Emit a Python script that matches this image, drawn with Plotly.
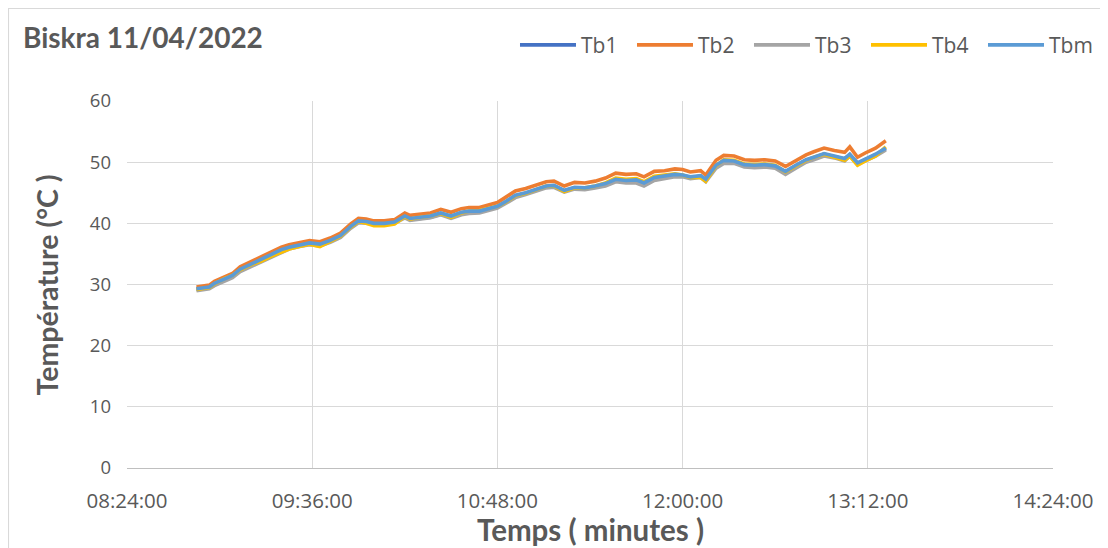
import plotly.graph_objects as go

# ---- data ----
times = ["08:51", "08:56", "08:58", "09:02", "09:05", "09:08", "09:12", "09:16", "09:20", "09:24",
         "09:27", "09:31", "09:35", "09:39", "09:43", "09:47", "09:51", "09:54", "09:57", "10:00",
         "10:04", "10:08", "10:12", "10:14", "10:18", "10:22", "10:26", "10:30", "10:34", "10:37",
         "10:41", "10:45", "10:48", "10:51", "10:55", "10:59", "11:03", "11:07", "11:10", "11:14",
         "11:18", "11:22", "11:26", "11:30", "11:34", "11:38", "11:42", "11:45", "11:49", "11:53",
         "11:57", "12:00", "12:03", "12:07", "12:09", "12:13", "12:16", "12:20", "12:24", "12:28",
         "12:32", "12:36", "12:40", "12:44", "12:48", "12:51", "12:55", "12:59", "13:03", "13:05",
         "13:08", "13:11", "13:15", "13:19"]

tb1 = [29.2, 29.5, 30.1, 30.9, 31.4, 32.4, 33.2, 33.9, 34.8, 35.6,
       36.0, 36.4, 36.7, 36.5, 37.1, 37.9, 39.4, 40.3, 40.2, 39.9,
       39.9, 40.1, 41.1, 40.6, 40.8, 41.0, 41.5, 41.0, 41.6, 41.8,
       41.9, 42.3, 42.7, 43.4, 44.5, 44.9, 45.5, 46.0, 46.1, 45.3,
       45.8, 45.7, 46.0, 46.4, 47.1, 46.9, 46.8, 46.3, 47.3, 47.6,
       47.9, 47.8, 47.5, 47.7, 47.1, 49.4, 50.2, 50.1, 49.5, 49.4,
       49.5, 49.3, 48.4, 49.4, 50.3, 50.7, 51.3, 50.9, 50.5, 51.2,
       49.8, 50.4, 51.2, 52.2]

tb2 = [29.6, 29.9, 30.5, 31.3, 31.8, 32.9, 33.7, 34.4, 35.3, 36.1,
       36.5, 36.9, 37.2, 37.0, 37.6, 38.4, 39.9, 40.8, 40.7, 40.4,
       40.4, 40.6, 41.7, 41.3, 41.5, 41.7, 42.3, 41.8, 42.4, 42.6,
       42.6, 43.1, 43.4, 44.2, 45.3, 45.7, 46.3, 46.8, 46.9, 46.1,
       46.7, 46.6, 46.9, 47.4, 48.2, 48.0, 48.1, 47.6, 48.5, 48.6,
       48.9, 48.8, 48.4, 48.6, 47.9, 50.3, 51.1, 51.0, 50.4, 50.3,
       50.4, 50.2, 49.3, 50.3, 51.2, 51.7, 52.3, 51.9, 51.6, 52.5,
       50.8, 51.5, 52.3, 53.5]

tb3 = [29.0, 29.3, 29.8, 30.6, 31.1, 32.1, 32.9, 33.6, 34.5, 35.3,
       35.8, 36.2, 36.5, 36.3, 36.9, 37.7, 39.2, 40.1, 40.0, 39.8,
       39.8, 40.0, 40.9, 40.5, 40.7, 40.9, 41.4, 40.8, 41.4, 41.6,
       41.7, 42.2, 42.5, 43.2, 44.2, 44.7, 45.3, 45.8, 45.9, 45.1,
       45.6, 45.5, 45.8, 46.1, 46.8, 46.6, 46.6, 46.1, 47.0, 47.3,
       47.6, 47.6, 47.3, 47.5, 46.8, 49.0, 49.8, 49.8, 49.2, 49.1,
       49.2, 49.0, 48.0, 49.0, 50.0, 50.4, 51.0, 50.7, 50.2, 51.0,
       49.6, 50.2, 51.0, 52.0]

tb4 = [29.2, 29.5, 30.1, 31.0, 31.5, 32.4, 33.2, 33.8, 34.6, 35.3,
       35.8, 36.2, 36.6, 36.2, 37.0, 37.9, 39.4, 40.3, 40.0, 39.6,
       39.6, 39.9, 41.1, 40.7, 41.0, 41.2, 41.6, 41.0, 41.7, 42.0,
       42.1, 42.5, 42.8, 43.4, 44.5, 44.9, 45.5, 46.1, 46.1, 45.2,
       45.8, 45.8, 46.1, 46.6, 47.4, 47.2, 47.3, 46.8, 47.7, 47.9,
       48.1, 47.9, 47.5, 47.5, 46.9, 49.4, 50.4, 50.3, 49.7, 49.6,
       49.7, 49.5, 48.4, 49.4, 50.3, 50.8, 51.3, 50.8, 50.3, 51.0,
       49.5, 50.2, 51.0, 52.5]

tbm = [29.3, 29.6, 30.2, 31.0, 31.5, 32.5, 33.3, 34.0, 34.9, 35.7,
       36.1, 36.5, 36.8, 36.6, 37.2, 38.0, 39.5, 40.4, 40.3, 40.0,
       40.0, 40.2, 41.2, 40.8, 41.0, 41.2, 41.7, 41.2, 41.8, 42.0,
       42.0, 42.5, 42.8, 43.5, 44.6, 45.0, 45.6, 46.1, 46.2, 45.4,
       45.9, 45.8, 46.1, 46.5, 47.2, 47.0, 47.1, 46.6, 47.5, 47.7,
       48.0, 47.9, 47.6, 47.8, 47.2, 49.5, 50.3, 50.2, 49.6, 49.5,
       49.6, 49.4, 48.5, 49.5, 50.4, 50.8, 51.4, 51.0, 50.6, 51.3,
       49.9, 50.5, 51.3, 52.3]

series_names = ["Tb1", "Tb2", "Tb3", "Tb4", "Tbm"]
series_colors = ["#4472C4", "#ED7D31", "#A5A5A5", "#FFC000", "#5B9BD5"]
x_ticks = ["08:24:00", "09:36:00", "10:48:00", "12:00:00", "13:12:00", "14:24:00"]
day = "2022-04-11"

xs = [f"{day} {t}:00" for t in times]
tickvals = [f"{day} {t}" for t in x_ticks]

fig = go.Figure()
for name, vals, col in zip(series_names, [tb1, tb2, tb3, tb4, tbm], series_colors):
    fig.add_trace(go.Scatter(x=xs, y=vals, name=name, mode="lines",
                             line=dict(color=col, width=3.6)))

grid = "#D9D9D9"
txt = "#595959"
# page body has an 8px margin, so the figure is 8px smaller and margins shifted
fig.update_layout(
    width=1100, height=540,
    paper_bgcolor="white", plot_bgcolor="white",
    margin=dict(l=119, r=55, t=93, b=80, autoexpand=False),
    showlegend=True,
    legend=dict(orientation="h", x=0.419, y=1.152, xanchor="left", yanchor="middle",
                font=dict(family="Open Sans", size=21, color=txt),
                entrywidth=46, entrywidthmode="pixels", itemwidth=56,
                bgcolor="rgba(0,0,0,0)", traceorder="normal"),
    xaxis=dict(type="date", range=[tickvals[0], tickvals[-1]],
               tickvals=tickvals, ticktext=x_ticks,
               showgrid=True, gridcolor=grid, gridwidth=1.3,
               showline=True, linecolor="#BFBFBF", linewidth=1.3,
               ticks="", ticklabelstandoff=14,
               tickfont=dict(family="Open Sans", size=20.5, color=txt),
               zeroline=False),
    yaxis=dict(range=[0, 60], dtick=10, tick0=0,
               showgrid=True, gridcolor=grid, gridwidth=1.3,
               showline=False, ticks="", ticklabelstandoff=15,
               tickfont=dict(family="Open Sans", size=18.5, color=txt),
               zeroline=False),
    shapes=[dict(type="rect", xref="paper", yref="paper",
                 x0=-0.128, x1=1.2, y0=-0.4, y1=1.252,
                 line=dict(color="#D9D9D9", width=1.2), fillcolor="rgba(0,0,0,0)",
                 layer="below")],
    annotations=[
        dict(text="<b>Biskra 11/04/2022</b>", xref="paper", yref="paper",
             x=-0.1145, y=1.174, xanchor="left", yanchor="middle", showarrow=False,
             font=dict(family="Lato", size=28, color=txt)),
        dict(text="<b>Temps ( minutes )</b>", xref="paper", yref="paper",
             x=0.5, y=-0.168, xanchor="center", yanchor="middle", showarrow=False,
             font=dict(family="Lato", size=29.5, color=txt)),
        dict(text="<b>Température (°C )</b>", xref="paper", yref="paper",
             x=-0.0864, y=0.5, xanchor="center", yanchor="middle", showarrow=False,
             textangle=-90, font=dict(family="Lato", size=28.5, color=txt)),
    ],
)

fig.write_html("out.html")
